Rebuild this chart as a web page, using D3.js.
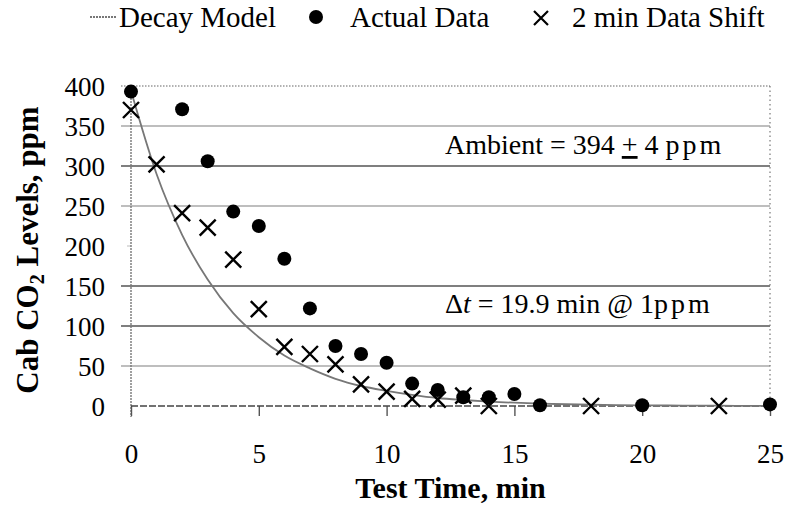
<!DOCTYPE html>
<html>
<head>
<meta charset="utf-8">
<script src="https://cdn.jsdelivr.net/npm/d3@7"></script>
</head>
<body style="margin:0">
<svg id="chart" width="787" height="512" style="display:block;background:#fff" font-family="Tinos, 'Liberation Serif', serif"></svg>
<script>
// ---- data ----
const actualTime = [0, 2, 3, 4, 5, 6, 7, 8, 9, 10, 11, 12, 13, 14, 15, 16, 20, 25];
const actualCO2  = [393, 371, 306, 243, 225, 184, 122, 75, 65, 54, 28, 20, 11, 11, 15, 1, 1, 2];

const shiftTime = [0, 1, 2, 3, 4, 5, 6, 7, 8, 9, 10, 11, 12, 13, 14, 18, 23];
const shiftCO2  = [370, 302, 241, 223, 183, 121, 74, 65, 52, 27, 18, 9, 8, 13, 0, 0, 0];

const modelTime = [0, 1, 2, 3, 4, 5, 6, 7, 8, 9, 10, 11, 12, 13, 14, 15, 16, 17, 18, 19, 20, 21, 22, 23, 24, 25];
const modelCO2  = [394, 290, 214, 158, 116, 86, 63, 47, 34, 25, 19, 14, 10, 7.5, 5.5, 4.1, 3, 2.2, 1.6, 1.2, 0.9, 0.65, 0.5, 0.35, 0.25, 0.2];

const yTicks = [0, 50, 100, 150, 200, 250, 300, 350, 400];
const xTicks = [0, 5, 10, 15, 20, 25];
const yTickLabels = ["0", "50", "100", "150", "200", "250", "300", "350", "400"];
const xTickLabels = ["0", "5", "10", "15", "20", "25"];

const legendLabels = ["Decay Model", "Actual Data", "2 min Data Shift"];
const xTitle = "Test Time, min";

// ---- styles (separate from data) ----
const FONT = "Tinos, 'Liberation Serif', serif";
const gridStyle = { 50: "#a8a8a8", 100: "#555", 150: "#555", 200: "none", 250: "#a8a8a8", 300: "#555", 350: "#a8a8a8" };

const svg = d3.select("#chart");
const L = 131, R = 770, T = 86, B = 406;

const x = d3.scaleLinear().domain([0, 25]).range([L, R]);
const y = d3.scaleLinear().domain([0, 400]).range([B, T]);

function txt(sel, size, weight) {
  return sel.attr("font-family", FONT).attr("font-size", size)
    .attr("font-weight", weight || null).attr("fill", "#000");
}

// gridlines
const grid = svg.append("g");
grid.selectAll("line.grid")
  .data(yTicks.filter(v => v > 0 && v < 400))
  .join("line")
  .attr("x1", L - 10).attr("x2", R)
  .attr("y1", d => y(d)).attr("y2", d => y(d))
  .attr("stroke", d => gridStyle[d])
  .attr("stroke-width", 1.6);
grid.append("line").attr("x1", L - 4).attr("x2", L).attr("y1", y(200)).attr("y2", y(200))
  .attr("stroke", "#bbb").attr("stroke-width", 1);

// top border (400) dotted
grid.append("line").attr("x1", L - 10).attr("x2", R).attr("y1", y(400)).attr("y2", y(400))
  .attr("stroke", "#999").attr("stroke-width", 1.3).attr("stroke-dasharray", "1.5,1.5");
// right border dotted
grid.append("line").attr("x1", R).attr("x2", R).attr("y1", T).attr("y2", B)
  .attr("stroke", "#777").attr("stroke-width", 1.2).attr("stroke-dasharray", "1.5,3");

// y axis
const yAxis = svg.append("g").attr("transform", `translate(${L},0)`)
  .call(d3.axisLeft(y).tickValues(yTicks).tickFormat((d, i) => yTickLabels[i]).tickSize(0).tickPadding(26));
yAxis.attr("font-family", FONT).attr("font-size", 27);
yAxis.select(".domain").remove();
txt(yAxis.selectAll("text"), 27).attr("dy", "0.34em");
svg.append("line").attr("x1", L).attr("x2", L).attr("y1", T).attr("y2", B + 11)
  .attr("stroke", "#777").attr("stroke-width", 1.4).attr("stroke-dasharray", "2,1");

// x axis
const xAxis = svg.append("g").attr("transform", `translate(0,${B})`)
  .call(d3.axisBottom(x).tickValues(xTicks).tickFormat((d, i) => xTickLabels[i]).tickSize(10).tickPadding(28));
xAxis.attr("font-family", FONT).attr("font-size", 27);
xAxis.select(".domain").remove();
xAxis.selectAll(".tick line").attr("stroke", "#555").attr("stroke-width", 1.4);
txt(xAxis.selectAll("text"), 27);
// baseline dashed
svg.append("line").attr("x1", L).attr("x2", R).attr("y1", B).attr("y2", B)
  .attr("stroke", "#444").attr("stroke-width", 1.5).attr("stroke-dasharray", "7,2");

// decay model curve
const modelData = modelTime.map((t, i) => [t, modelCO2[i]]);
const line = d3.line().x(d => x(d[0])).y(d => y(d[1])).curve(d3.curveMonotoneX);
svg.append("path").datum(modelData).attr("d", line)
  .attr("fill", "none").attr("stroke", "#777").attr("stroke-width", 1.8);

// actual data circles
svg.append("g").selectAll("circle")
  .data(actualTime.map((t, i) => [t, actualCO2[i]]))
  .join("circle")
  .attr("cx", d => x(d[0])).attr("cy", d => y(d[1])).attr("r", 7)
  .attr("fill", "#000");

// shift X markers
const cross = "M-8,-8L8,8M-8,8L8,-8";
svg.append("g").selectAll("path")
  .data(shiftTime.map((t, i) => [t, shiftCO2[i]]))
  .join("path")
  .attr("transform", d => `translate(${x(d[0])},${y(d[1])})`)
  .attr("d", cross).attr("stroke", "#000").attr("stroke-width", 2.4).attr("fill", "none");

// annotations
const amb = txt(svg.append("text").attr("x", 445).attr("y", 154), 28);
amb.append("tspan").text("Ambient = 394 ");
amb.append("tspan").attr("text-decoration", "underline").style("text-decoration", "underline").text("+");
amb.append("tspan").text(" 4 ");
amb.append("tspan").attr("letter-spacing", 3).text("ppm");

const dt = txt(svg.append("text").attr("x", 445).attr("y", 313), 28);
dt.append("tspan").text("Δ");
dt.append("tspan").attr("font-style", "italic").text("t");
dt.append("tspan").text(" = 19.9 min @ 1");
dt.append("tspan").attr("letter-spacing", 3).text("ppm");

// axis titles
txt(svg.append("text").attr("x", (L + R) / 2).attr("y", 498).attr("text-anchor", "middle"), 30, "bold").text(xTitle);

const yt = txt(svg.append("text").attr("transform", `translate(38,${(T + B) / 2 + 4}) rotate(-90)`)
  .attr("text-anchor", "middle"), 31, "bold");
yt.append("tspan").text("Cab CO");
yt.append("tspan").attr("dy", 6).attr("font-size", 20).text("2");
yt.append("tspan").attr("dy", -6).text(" Levels, ppm");

// legend
const lg = svg.append("g");
lg.append("line").attr("x1", 90).attr("x2", 117).attr("y1", 17).attr("y2", 17)
  .attr("stroke", "#777").attr("stroke-width", 1.8).attr("stroke-dasharray", "2,1");
txt(lg.append("text").attr("x", 119).attr("y", 27), 29).text(legendLabels[0]);
lg.append("circle").attr("cx", 316).attr("cy", 17).attr("r", 7).attr("fill", "#000");
txt(lg.append("text").attr("x", 350).attr("y", 27), 29).text(legendLabels[1]);
lg.append("path").attr("transform", "translate(541,18)").attr("d", "M-7,-7L7,7M-7,7L7,-7")
  .attr("stroke", "#000").attr("stroke-width", 2.2);
txt(lg.append("text").attr("x", 572).attr("y", 27), 29).text(legendLabels[2]);
</script>
</body>
</html>
